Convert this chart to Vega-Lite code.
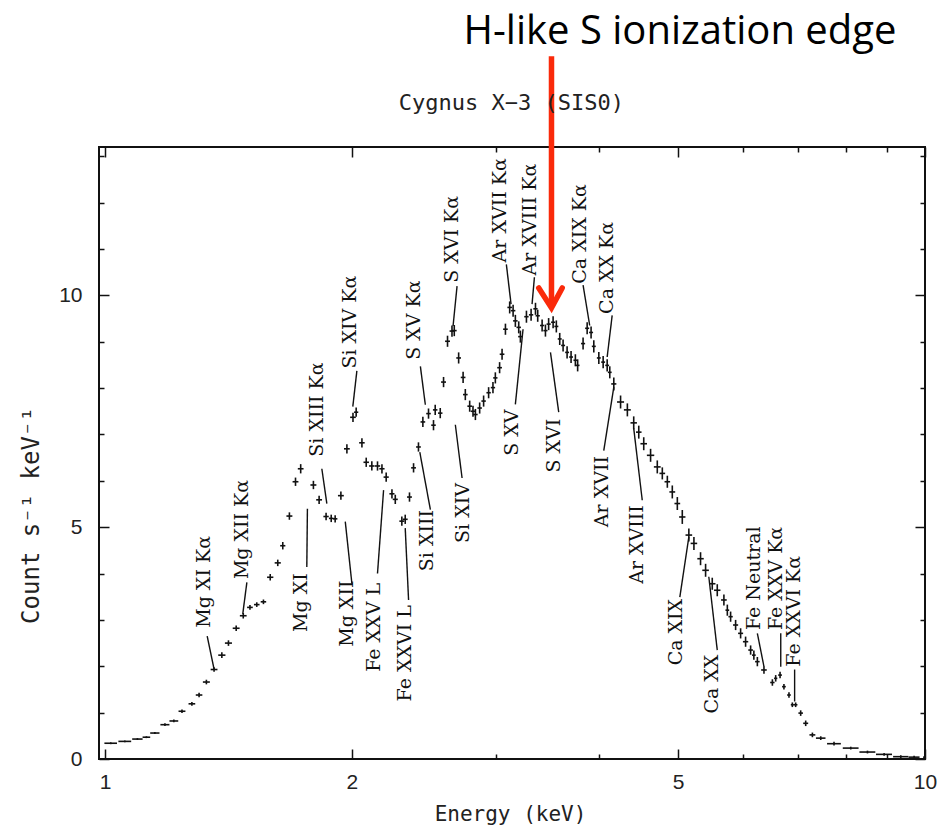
{
  "$schema": "https://vega.github.io/schema/vega-lite/v6.json",
  "width": 826,
  "height": 612,
  "autosize": "none",
  "padding": {"left": 99, "top": 147, "right": 13, "bottom": 70},
  "background": "white",
  "config": {
    "view": {"stroke": "#111", "strokeWidth": 2},
    "axis": {"grid": false, "domain": false, "labelFlush": false, "labelOverlap": false, "tickColor": "#111", "tickWidth": 1.5}
  },
  "datasets": {
    "spectrum": [
      {"E":1.016,"V":0.34,"dE":0.018,"dV":0.02},{"E":1.057,"V":0.38,"dE":0.019,"dV":0.02},{"E":1.095,"V":0.43,"dE":0.016,"dV":0.02},
      {"E":1.123,"V":0.47,"dE":0.012,"dV":0.02},{"E":1.150,"V":0.56,"dE":0.015,"dV":0.02},{"E":1.183,"V":0.74,"dE":0.015,"dV":0.03},
      {"E":1.213,"V":0.82,"dE":0.015,"dV":0.03},{"E":1.241,"V":1.03,"dE":0.012,"dV":0.04},{"E":1.276,"V":1.19,"dE":0.012,"dV":0.04},
      {"E":1.302,"V":1.38,"dE":0.012,"dV":0.05},{"E":1.329,"V":1.66,"dE":0.013,"dV":0.05},{"E":1.358,"V":1.93,"dE":0.013,"dV":0.05},
      {"E":1.388,"V":2.24,"dE":0.014,"dV":0.06},{"E":1.414,"V":2.50,"dE":0.014,"dV":0.06},{"E":1.445,"V":2.82,"dE":0.014,"dV":0.06},
      {"E":1.474,"V":3.09,"dE":0.014,"dV":0.06},{"E":1.502,"V":3.27,"dE":0.012,"dV":0.05},{"E":1.531,"V":3.33,"dE":0.012,"dV":0.05},
      {"E":1.560,"V":3.39,"dE":0.012,"dV":0.05},{"E":1.590,"V":3.92,"dE":0.014,"dV":0.07},{"E":1.624,"V":4.23,"dE":0.014,"dV":0.07},
      {"E":1.647,"V":4.60,"dE":0.012,"dV":0.08},{"E":1.678,"V":5.24,"dE":0.014,"dV":0.08},{"E":1.707,"V":5.98,"dE":0.014,"dV":0.09},
      {"E":1.732,"V":6.26,"dE":0.014,"dV":0.10},{"E":1.795,"V":5.91,"dE":0.015,"dV":0.09},{"E":1.824,"V":5.59,"dE":0.015,"dV":0.09},
      {"E":1.860,"V":5.23,"dE":0.014,"dV":0.08},{"E":1.887,"V":5.19,"dE":0.012,"dV":0.08},{"E":1.908,"V":5.18,"dE":0.012,"dV":0.08},
      {"E":1.939,"V":5.68,"dE":0.016,"dV":0.09},{"E":1.972,"V":6.69,"dE":0.016,"dV":0.10},{"E":2.006,"V":7.37,"dE":0.016,"dV":0.10},
      {"E":2.024,"V":7.48,"dE":0.012,"dV":0.10},{"E":2.057,"V":6.82,"dE":0.016,"dV":0.10},{"E":2.082,"V":6.40,"dE":0.016,"dV":0.10},
      {"E":2.115,"V":6.32,"dE":0.016,"dV":0.10},{"E":2.149,"V":6.32,"dE":0.016,"dV":0.10},{"E":2.176,"V":6.26,"dE":0.016,"dV":0.10},
      {"E":2.202,"V":6.08,"dE":0.016,"dV":0.10},{"E":2.238,"V":5.72,"dE":0.016,"dV":0.10},{"E":2.259,"V":5.60,"dE":0.016,"dV":0.10},
      {"E":2.301,"V":5.13,"dE":0.016,"dV":0.10},{"E":2.323,"V":5.17,"dE":0.016,"dV":0.10},{"E":2.351,"V":5.65,"dE":0.016,"dV":0.10},
      {"E":2.378,"V":6.28,"dE":0.016,"dV":0.10},{"E":2.411,"V":6.73,"dE":0.016,"dV":0.10},{"E":2.441,"V":7.27,"dE":0.016,"dV":0.11},
      {"E":2.480,"V":7.45,"dE":0.016,"dV":0.11},{"E":2.515,"V":7.20,"dE":0.016,"dV":0.11},{"E":2.527,"V":7.53,"dE":0.016,"dV":0.11},
      {"E":2.563,"V":7.46,"dE":0.016,"dV":0.11},{"E":2.587,"V":8.13,"dE":0.018,"dV":0.11},{"E":2.616,"V":9.01,"dE":0.018,"dV":0.12},
      {"E":2.649,"V":9.23,"dE":0.018,"dV":0.12},{"E":2.666,"V":9.24,"dE":0.018,"dV":0.12},{"E":2.699,"V":8.65,"dE":0.018,"dV":0.12},
      {"E":2.733,"V":8.23,"dE":0.018,"dV":0.12},{"E":2.750,"V":7.86,"dE":0.018,"dV":0.12},{"E":2.784,"V":7.61,"dE":0.018,"dV":0.12},
      {"E":2.810,"V":7.50,"dE":0.018,"dV":0.12},{"E":2.829,"V":7.43,"dE":0.018,"dV":0.12},{"E":2.863,"V":7.57,"dE":0.018,"dV":0.12},
      {"E":2.895,"V":7.72,"dE":0.018,"dV":0.12},{"E":2.936,"V":7.90,"dE":0.018,"dV":0.12},{"E":2.972,"V":8.01,"dE":0.018,"dV":0.12},
      {"E":2.992,"V":8.22,"dE":0.018,"dV":0.12},{"E":3.028,"V":8.44,"dE":0.020,"dV":0.12},{"E":3.049,"V":8.73,"dE":0.020,"dV":0.12},
      {"E":3.078,"V":9.27,"dE":0.020,"dV":0.12},{"E":3.115,"V":9.74,"dE":0.020,"dV":0.13},{"E":3.145,"V":9.67,"dE":0.020,"dV":0.13},
      {"E":3.165,"V":9.45,"dE":0.020,"dV":0.13},{"E":3.195,"V":9.31,"dE":0.020,"dV":0.13},{"E":3.210,"V":9.11,"dE":0.020,"dV":0.13},
      {"E":3.265,"V":9.54,"dE":0.020,"dV":0.13},{"E":3.308,"V":9.58,"dE":0.020,"dV":0.13},{"E":3.349,"V":9.71,"dE":0.020,"dV":0.13},
      {"E":3.370,"V":9.56,"dE":0.020,"dV":0.13},{"E":3.412,"V":9.35,"dE":0.020,"dV":0.13},{"E":3.444,"V":9.24,"dE":0.020,"dV":0.13},
      {"E":3.475,"V":9.38,"dE":0.020,"dV":0.13},{"E":3.519,"V":9.42,"dE":0.020,"dV":0.13},{"E":3.551,"V":9.33,"dE":0.020,"dV":0.13},
      {"E":3.585,"V":9.06,"dE":0.020,"dV":0.13},{"E":3.619,"V":8.92,"dE":0.020,"dV":0.13},{"E":3.660,"V":8.77,"dE":0.020,"dV":0.13},
      {"E":3.701,"V":8.67,"dE":0.020,"dV":0.13},{"E":3.746,"V":8.60,"dE":0.020,"dV":0.13},{"E":3.770,"V":8.49,"dE":0.020,"dV":0.13},
      {"E":3.828,"V":8.96,"dE":0.022,"dV":0.13},{"E":3.872,"V":9.29,"dE":0.022,"dV":0.13},{"E":3.915,"V":9.20,"dE":0.022,"dV":0.13},
      {"E":3.945,"V":8.90,"dE":0.022,"dV":0.13},{"E":4.001,"V":8.65,"dE":0.022,"dV":0.13},{"E":4.050,"V":8.56,"dE":0.022,"dV":0.13},
      {"E":4.096,"V":8.49,"dE":0.022,"dV":0.13},{"E":4.126,"V":8.34,"dE":0.022,"dV":0.13},{"E":4.173,"V":8.09,"dE":0.030,"dV":0.14},
      {"E":4.253,"V":7.70,"dE":0.042,"dV":0.14},{"E":4.335,"V":7.53,"dE":0.042,"dV":0.14},{"E":4.413,"V":7.25,"dE":0.040,"dV":0.14},
      {"E":4.476,"V":7.05,"dE":0.035,"dV":0.14},{"E":4.539,"V":6.80,"dE":0.042,"dV":0.14},{"E":4.627,"V":6.55,"dE":0.048,"dV":0.14},
      {"E":4.715,"V":6.30,"dE":0.045,"dV":0.14},{"E":4.782,"V":6.16,"dE":0.038,"dV":0.13},{"E":4.850,"V":5.98,"dE":0.038,"dV":0.13},
      {"E":4.918,"V":5.76,"dE":0.040,"dV":0.14},{"E":4.988,"V":5.51,"dE":0.040,"dV":0.14},{"E":5.058,"V":5.22,"dE":0.045,"dV":0.15},
      {"E":5.152,"V":4.83,"dE":0.048,"dV":0.14},{"E":5.226,"V":4.65,"dE":0.048,"dV":0.14},{"E":5.324,"V":4.32,"dE":0.048,"dV":0.14},
      {"E":5.400,"V":4.07,"dE":0.050,"dV":0.14},{"E":5.502,"V":3.78,"dE":0.050,"dV":0.13},{"E":5.580,"V":3.64,"dE":0.050,"dV":0.13},
      {"E":5.685,"V":3.43,"dE":0.045,"dV":0.12},{"E":5.740,"V":3.21,"dE":0.030,"dV":0.12},{"E":5.793,"V":3.07,"dE":0.035,"dV":0.11},
      {"E":5.875,"V":2.89,"dE":0.042,"dV":0.11},{"E":5.958,"V":2.71,"dE":0.042,"dV":0.11},{"E":6.042,"V":2.53,"dE":0.045,"dV":0.11},
      {"E":6.128,"V":2.35,"dE":0.040,"dV":0.10},{"E":6.184,"V":2.24,"dE":0.032,"dV":0.10},{"E":6.245,"V":2.10,"dE":0.040,"dV":0.10},
      {"E":6.362,"V":1.92,"dE":0.050,"dV":0.08},{"E":6.514,"V":1.65,"dE":0.040,"dV":0.07},{"E":6.575,"V":1.74,"dE":0.030,"dV":0.07},
      {"E":6.656,"V":1.81,"dE":0.035,"dV":0.07},{"E":6.729,"V":1.56,"dE":0.035,"dV":0.06},{"E":6.825,"V":1.38,"dE":0.035,"dV":0.06},
      {"E":6.890,"V":1.17,"dE":0.030,"dV":0.05},{"E":6.954,"V":1.17,"dE":0.035,"dV":0.05},{"E":7.053,"V":0.99,"dE":0.045,"dV":0.06},
      {"E":7.153,"V":0.77,"dE":0.050,"dV":0.06},{"E":7.289,"V":0.52,"dE":0.060,"dV":0.05},{"E":7.462,"V":0.45,"dE":0.100,"dV":0.04},
      {"E":7.745,"V":0.33,"dE":0.150,"dV":0.04},{"E":8.118,"V":0.235,"dE":0.180,"dV":0.03},{"E":8.508,"V":0.15,"dE":0.190,"dV":0.03},
      {"E":8.915,"V":0.10,"dE":0.200,"dV":0.03},{"E":9.343,"V":0.05,"dE":0.200,"dV":0.03},{"E":9.698,"V":0.04,"dE":0.150,"dV":0.03},
      {"E":9.975,"V":0.03,"dE":0.020,"dV":0.03}
    ],
    "labels": [
      {"label":"Mg XI Kα","E":1.321,"V":2.83},
      {"label":"Mg XII Kα","E":1.468,"V":3.88},
      {"label":"Si XIII Kα","E":1.812,"V":6.52},
      {"label":"Si XIV Kα","E":1.990,"V":8.42},
      {"label":"S XV Kα","E":2.378,"V":8.61},
      {"label":"S XVI Kα","E":2.649,"V":10.27},
      {"label":"Ar XVII Kα","E":3.034,"V":10.71},
      {"label":"Ar XVIII Kα","E":3.302,"V":10.43},
      {"label":"Ca XIX Kα","E":3.793,"V":10.25},
      {"label":"Ca XX Kα","E":4.096,"V":9.60},
      {"label":"Fe Neutral","E":6.184,"V":2.78},
      {"label":"Fe XXV Kα","E":6.575,"V":2.78},
      {"label":"Fe XXVI Kα","E":6.922,"V":1.99},
      {"label":"Mg XI","E":1.733,"V":2.74},
      {"label":"Mg XII","E":1.972,"V":2.42},
      {"label":"Fe XXV L","E":2.125,"V":1.88},
      {"label":"Fe XXVI L","E":2.323,"V":1.24},
      {"label":"Si XIII","E":2.470,"V":4.05},
      {"label":"Si XIV","E":2.735,"V":4.66},
      {"label":"S XV","E":3.136,"V":6.54},
      {"label":"S XVI","E":3.525,"V":6.18},
      {"label":"Ar XVII","E":4.039,"V":5.00},
      {"label":"Ar XVIII","E":4.457,"V":3.78},
      {"label":"Ca XIX","E":4.964,"V":2.02},
      {"label":"Ca XX","E":5.502,"V":0.98}
    ],
    "leaders": [
      {"E1":1.332,"V1":2.65,"E2":1.358,"V2":1.94},
      {"E1":1.489,"V1":3.81,"E2":1.472,"V2":3.13},
      {"E1":1.762,"V1":4.14,"E2":1.765,"V2":5.40},
      {"E1":2.000,"V1":3.78,"E2":1.963,"V2":5.12},
      {"E1":2.149,"V1":4.00,"E2":2.186,"V2":5.80},
      {"E1":2.345,"V1":3.43,"E2":2.323,"V2":4.98},
      {"E1":2.493,"V1":5.38,"E2":2.420,"V2":6.62},
      {"E1":2.725,"V1":6.06,"E2":2.674,"V2":7.21},
      {"E1":1.838,"V1":6.26,"E2":1.864,"V2":5.51},
      {"E1":2.028,"V1":8.37,"E2":2.005,"V2":7.60},
      {"E1":2.424,"V1":8.47,"E2":2.458,"V2":7.64},
      {"E1":2.687,"V1":10.20,"E2":2.657,"V2":9.34},
      {"E1":3.086,"V1":10.67,"E2":3.127,"V2":9.81},
      {"E1":3.339,"V1":10.39,"E2":3.317,"V2":9.81},
      {"E1":3.828,"V1":10.22,"E2":3.900,"V2":9.35},
      {"E1":4.154,"V1":9.57,"E2":4.096,"V2":8.67},
      {"E1":3.165,"V1":7.65,"E2":3.234,"V2":9.27},
      {"E1":3.575,"V1":7.48,"E2":3.493,"V2":8.77},
      {"E1":4.057,"V1":6.65,"E2":4.173,"V2":8.02},
      {"E1":4.520,"V1":5.58,"E2":4.413,"V2":7.13},
      {"E1":5.023,"V1":3.49,"E2":5.152,"V2":4.79},
      {"E1":5.580,"V1":2.35,"E2":5.449,"V2":3.93},
      {"E1":6.245,"V1":2.71,"E2":6.362,"V2":1.99},
      {"E1":6.669,"V1":2.71,"E2":6.669,"V2":1.99},
      {"E1":6.934,"V1":1.93,"E2":6.934,"V2":1.24}
    ],
    "shaft": [{"E":3.503,"V1":15.16,"V2":9.80}],
    "arrowhead": [{"E":3.380,"V":10.16,"o":1},{"E":3.503,"V":9.73,"o":2},{"E":3.610,"V":10.16,"o":3}],
    "callout": [{"text":"H-like S ionization edge","E":5.025,"V":15.43}],
    "heading": [{"text":"Cygnus X−3 (SIS0)","E":3.130,"V":14.0}]
  },
  "layer": [
    {
      "data": {"name": "leaders"},
      "mark": {"type": "rule", "color": "#111", "strokeWidth": 1.4},
      "encoding": {
        "x": {"field": "E1", "type": "quantitative", "scale": {"type": "log", "domain": [0.983, 10], "nice": false},
          "axis": {"orient": "bottom", "values": [1, 2, 5, 10], "format": "d", "tickSize": -10, "labelFont": "Liberation Sans", "labelFontSize": 21, "labelColor": "#222", "labelPadding": 22,
            "title": "Energy (keV)", "titleFont": "DejaVu Sans Mono", "titleFontSize": 21, "titleFontWeight": "normal", "titleColor": "#222", "titleX": 411, "titleY": 61, "titleAlign": "center", "titleBaseline": "alphabetic"}},
        "y": {"field": "V1", "type": "quantitative", "scale": {"domain": [0, 13.2], "nice": false, "zero": false},
          "axis": {"orient": "left", "values": [0, 5, 10], "format": "d", "tickSize": -10, "labelFont": "Liberation Sans", "labelFontSize": 21, "labelColor": "#222", "labelPadding": 27,
            "title": "Count s⁻¹ keV⁻¹", "titleFont": "DejaVu Sans Mono", "titleFontSize": 24, "titleFontWeight": "normal", "titleColor": "#222", "titleX": -61, "titleY": 368, "titleAngle": 270, "titleAlign": "center", "titleBaseline": "alphabetic"}},
        "x2": {"field": "E2"},
        "y2": {"field": "V2"}
      }
    },
    {
      "data": {"name": "labels"},
      "mark": {"type": "text", "angle": 270, "align": "left", "baseline": "middle", "font": "DejaVu Serif", "fontSize": 19, "color": "#111"},
      "encoding": {
        "x": {"field": "E", "type": "quantitative", "scale": {"type": "log", "domain": [0.983, 10], "nice": false},
          "axis": {"orient": "bottom", "values": [3, 4, 6, 7, 8, 9], "tickSize": -5, "labels": false, "title": null}},
        "y": {"field": "V", "type": "quantitative", "scale": {"domain": [0, 13.2], "nice": false, "zero": false},
          "axis": {"orient": "left", "values": [1, 2, 3, 4, 6, 7, 8, 9, 11, 12, 13], "tickSize": -5, "labels": false, "title": null}},
        "text": {"field": "label"}
      }
    },
    {
      "data": {"name": "shaft"},
      "mark": {"type": "rule", "color": "#fa2a0a", "strokeWidth": 5.5},
      "encoding": {
        "x": {"field": "E", "type": "quantitative", "scale": {"type": "log", "domain": [0.983, 10], "nice": false},
          "axis": {"orient": "top", "values": [1, 2, 5, 10], "tickSize": -10, "labels": false, "title": null}},
        "y": {"field": "V1", "type": "quantitative", "scale": {"domain": [0, 13.2], "nice": false, "zero": false},
          "axis": {"orient": "right", "values": [0, 5, 10], "tickSize": -10, "labels": false, "title": null}},
        "y2": {"field": "V2"}
      }
    },
    {
      "data": {"name": "callout"},
      "mark": {"type": "text", "align": "center", "baseline": "alphabetic", "font": "Open Sans", "fontSize": 40, "color": "#000"},
      "encoding": {
        "x": {"field": "E", "type": "quantitative", "scale": {"type": "log", "domain": [0.983, 10], "nice": false},
          "axis": {"orient": "top", "values": [3, 4, 6, 7, 8, 9], "tickSize": -5, "labels": false, "title": null}},
        "y": {"field": "V", "type": "quantitative", "scale": {"domain": [0, 13.2], "nice": false, "zero": false},
          "axis": {"orient": "right", "values": [1, 2, 3, 4, 6, 7, 8, 9, 11, 12, 13], "tickSize": -5, "labels": false, "title": null}},
        "text": {"field": "text"}
      }
    },
    {
      "data": {"name": "heading"},
      "mark": {"type": "text", "align": "center", "baseline": "alphabetic", "font": "DejaVu Sans Mono", "fontSize": 22, "color": "#222"},
      "encoding": {
        "x": {"field": "E", "type": "quantitative", "scale": {"type": "log", "domain": [0.983, 10], "nice": false}, "axis": null},
        "y": {"field": "V", "type": "quantitative", "scale": {"domain": [0, 13.2], "nice": false, "zero": false}, "axis": null},
        "text": {"field": "text"}
      }
    },
    {
      "data": {"name": "arrowhead"},
      "mark": {"type": "line", "color": "#fa2a0a", "strokeWidth": 5.5, "strokeJoin": "miter", "strokeCap": "round"},
      "encoding": {
        "x": {"field": "E", "type": "quantitative", "scale": {"type": "log", "domain": [0.983, 10], "nice": false}, "axis": null},
        "y": {"field": "V", "type": "quantitative", "scale": {"domain": [0, 13.2], "nice": false, "zero": false}, "axis": null},
        "order": {"field": "o"}
      }
    },
    {
      "data": {"name": "spectrum"},
      "mark": {"type": "errorbar", "color": "#111", "thickness": 1.6},
      "encoding": {
        "x": {"field": "E", "type": "quantitative", "scale": {"type": "log", "domain": [0.983, 10], "nice": false}, "axis": null},
        "xError": {"field": "dE"},
        "y": {"field": "V", "type": "quantitative", "scale": {"domain": [0, 13.2], "nice": false, "zero": false}, "axis": null}
      }
    },
    {
      "data": {"name": "spectrum"},
      "mark": {"type": "errorbar", "color": "#111", "thickness": 1.6},
      "encoding": {
        "x": {"field": "E", "type": "quantitative", "scale": {"type": "log", "domain": [0.983, 10], "nice": false}, "axis": null},
        "y": {"field": "V", "type": "quantitative", "scale": {"domain": [0, 13.2], "nice": false, "zero": false}, "axis": null},
        "yError": {"field": "dV"}
      }
    }
  ],
  "resolve": {"axis": {"x": "independent", "y": "independent"}}
}
